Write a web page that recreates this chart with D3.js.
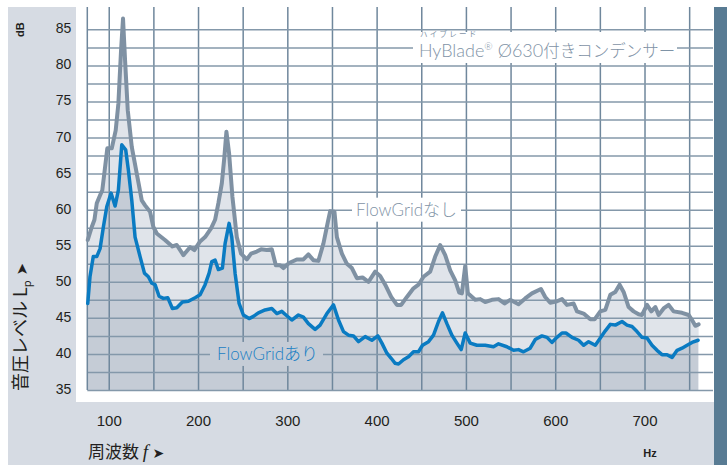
<!DOCTYPE html>
<html>
<head>
<meta charset="utf-8">
<script src="https://cdn.jsdelivr.net/npm/d3@7/dist/d3.min.js"></script>
<style>
  html, body { margin: 0; padding: 0; background: #fff; }
  svg { display: block; }
</style>
</head>
<body>
<svg id="chart" width="727" height="465"></svg>
<script>
// ---------------- DATA ----------------
const xTickLabels = [100, 200, 300, 400, 500, 600, 700];
const yTickLabels = [35, 40, 45, 50, 55, 60, 65, 70, 75, 80, 85];
const xGridValues = [100, 150, 200, 250, 300, 350, 400, 450, 500, 550, 600, 650, 700, 750];
const yGridValues = [35, 37.5, 40, 42.5, 45, 47.5, 50, 52.5, 55, 57.5, 60, 62.5, 65, 67.5, 70, 72.5, 75, 77.5, 80, 82.5, 85];

const seriesNames = ["FlowGridなし", "FlowGridあり"];

// FlowGrid なし (without)
const grayHz = [76.5,81,84,86.6,90.3,92.8,95.9,98.4,103.4,107.8,110.8,113.8,116,118.3,121.3,125.8,131.4,137,140.7,146.3,150,153.8,163,171.3,176.2,183.6,191.1,195.9,202.3,207.9,214.6,219.1,222.8,226.6,229.5,231.8,234.8,238.5,243.4,248.2,254.6,259.4,265.8,270.6,277,282.6,287.1,291.9,295.6,302,310.6,318,323.6,329.2,334.8,340.4,345.4,348,352.8,355.5,361.1,366.7,372.3,377.9,384.2,390.9,398.4,404,409.6,416.3,422.7,427.5,433.9,441.3,446.9,452.5,460,465.6,471.2,476.8,482.4,488,492.5,495.5,499.2,502.2,510.4,516,521.6,529.1,536.5,543.2,549.6,558.9,566.4,573.9,584,588.8,594.4,602,607.6,613.2,620.6,624.4,631.8,639.3,644.1,650.5,656.1,661.7,667.3,672.1,676.6,682.2,687.8,693.4,697.2,702.8,707.6,712.1,715.8,721.4,727,732.6,742,749.4,753.2,756.9,760.6];
const grayDb = [55.8,57.6,58.6,60.9,62.0,62.7,65.9,68.5,68.5,71.0,74.7,82.1,86.5,80.7,73.8,68.7,65.0,61.3,60.6,59.7,57.6,56.7,55.8,54.9,55.1,53.7,54.8,54.4,55.6,56.2,57.4,58.6,60.9,63.6,67.3,70.8,67.8,61.8,56.2,53.9,53.1,53.9,54.2,54.5,54.4,54.5,52.3,52.3,51.9,52.6,53.1,53.1,53.8,53.0,52.9,55.3,58.3,59.8,59.7,56.2,53.9,52.5,51.9,50.5,50.6,50.0,51.4,50.8,49.6,47.9,46.8,46.8,47.9,49.1,49.6,50.7,51.4,53.5,55.1,53.7,51.6,50.2,48.5,48.4,52.2,48.4,47.5,47.6,47.2,47.5,47.6,47.0,47.5,46.9,47.7,48.4,49.0,47.9,47.1,47.3,47.6,46.8,47.0,45.9,45.6,44.8,44.8,45.9,46.1,48.2,48.6,49.6,48.6,46.5,45.9,45.5,45.4,46.8,45.9,46.5,45.4,46.3,46.8,45.9,45.7,45.4,44.7,43.9,44.1];

// FlowGrid あり (with)
const blueHz = [76.5,79,82.7,86.6,90.3,94,97.8,102.6,107.1,110.8,114.6,119,122,125.8,129.5,135.1,140,144.4,148.2,151.9,156.4,161.2,166.1,171.3,176.2,182.5,189.2,196.7,202.3,207.9,212.4,215.4,219.1,222.8,227.3,230.3,234.8,237.8,241.5,246,250.8,257.2,262,267.6,275.1,282.6,288.2,293.8,299.4,305,312.4,318,323.6,331.1,336.7,344.3,351.7,357.3,362.9,368.5,374.1,379.7,387.2,394.7,401.4,405.9,411.5,416.3,420.8,424.5,430.1,435.7,441.3,446.9,451.4,458.1,463.7,469.3,473.8,478.7,484.3,489.9,494.7,499.2,504.8,512.3,521.6,530.9,536.5,545.9,553.3,558.9,564.5,572,577.6,585.1,590.8,596.3,601.9,607.6,612,618.8,626.2,631.8,637.4,644.9,650.5,656.1,661.7,667.3,674.8,680.4,686,691.6,697.2,702.8,708.4,714,719.6,725.2,730.9,736.5,742,747.7,753.2,760];
const blueDb = [47.0,50.7,53.5,53.5,54.6,57.6,60.4,62.3,60.5,62.7,69.0,68.3,65.5,61.3,56.2,53.5,51.2,50.7,49.8,49.6,48.0,47.7,47.8,46.3,46.4,47.2,47.3,47.8,48.2,49.6,51.2,52.8,53.0,51.7,51.9,55.3,58.1,56.2,51.2,47.0,45.4,44.9,45.2,45.7,46.1,46.3,45.6,45.9,45.3,44.7,45.4,45.1,44.2,43.4,44.0,45.6,46.8,44.7,43.1,42.6,42.5,41.7,42.4,41.9,42.5,41.5,40.1,39.4,38.7,38.6,39.2,39.6,40.3,40.3,41.2,41.7,42.6,44.5,45.7,44.2,42.6,41.5,40.6,42.9,41.5,41.2,41.2,41.0,41.4,41.0,40.5,40.6,40.3,40.8,42.0,42.5,42.3,41.6,42.3,42.9,42.9,42.3,41.9,41.2,41.7,41.2,42.2,43.2,44.1,44.0,44.5,44.0,43.8,43.1,42.3,42.2,41.2,40.5,39.9,39.9,39.5,40.5,40.8,41.2,41.6,41.9];

// ---------------- STYLE ----------------
const C = {
  panel: "#d6dbe3",
  bar: "#587b93",
  fillGray: "#e0e4ea",
  fillBlue: "#c5ccd6",
  gridV: "#6f879c",
  gridH: "#8498aa",
  gray: "#7f91a3",
  blue: "#0a7bc2",
  labelGray: "#7f93a6",
  labelBlue: "#1a80c4",
  text: "#231f20"
};
const narrow = "'Liberation Sans Narrow', 'Arial Narrow', 'Liberation Sans', Arial, sans-serif";
const labelFont = "Lato, 'Noto Sans CJK JP', sans-serif";

const svg = d3.select("#chart");

// plot geometry
const L = 87.3, R = 713, T = 7, B = 390;
const x = d3.scaleLinear().domain([76, 776.7]).range([L, R]);
const y = d3.scaleLinear().domain([35, 88.1]).range([B, T]);

// background panels
svg.append("rect").attr("x", 8).attr("y", 7).attr("width", 706).attr("height", 458).attr("fill", C.panel);
svg.append("rect").attr("x", 76).attr("y", 0).attr("width", 638).attr("height", 402).attr("fill", "#fff");
svg.append("rect").attr("x", 714).attr("y", 7).attr("width", 13).attr("height", 458).attr("fill", C.bar);

const gray = grayHz.map((h, i) => ({ hz: h, db: grayDb[i] }));
const blue = blueHz.map((h, i) => ({ hz: h, db: blueDb[i] }));

const area = d3.area().x(d => x(d.hz)).y0(y(35)).y1(d => y(d.db));
const line = d3.line().x(d => x(d.hz)).y(d => y(d.db));

svg.append("path").datum(gray).attr("d", area).attr("fill", C.fillGray);
svg.append("path").datum(blue).attr("d", area).attr("fill", C.fillBlue);

// grid via axes
const gx = svg.append("g").attr("transform", `translate(0,${B})`)
  .call(d3.axisBottom(x).tickValues(xGridValues).tickSize(-(B - T)).tickFormat(""));
gx.select(".domain").remove();
gx.selectAll("line").attr("stroke", C.gridV).attr("stroke-width", 1.5);

const gy = svg.append("g").attr("transform", `translate(${L},0)`)
  .call(d3.axisLeft(y).tickValues(yGridValues).tickSize(-(R - L)).tickFormat(""));
gy.select(".domain").remove();
gy.selectAll("line").attr("stroke", C.gridH).attr("stroke-width", 1.5);

// left border
svg.append("line").attr("x1", L).attr("x2", L).attr("y1", T).attr("y2", B)
  .attr("stroke", C.gridV).attr("stroke-width", 1.5);

// tick labels
const ax = svg.append("g").attr("transform", `translate(0,${B})`)
  .call(d3.axisBottom(x).tickValues(xTickLabels).tickSize(0).tickPadding(25).tickFormat(d3.format("d")));
ax.select(".domain").remove();
ax.selectAll("text").attr("font-family", narrow).attr("font-size", 15).attr("fill", C.text);

const ay = svg.append("g").attr("transform", `translate(${L},0)`)
  .call(d3.axisLeft(y).tickValues(yTickLabels).tickSize(0).tickPadding(16).tickFormat(d3.format("d")));
ay.select(".domain").remove();
ay.selectAll("text").attr("font-family", narrow).attr("font-size", 14).attr("fill", C.text).attr("dy", "0.25em");

// label boxes + labels
function boxLabel(x0, y0, w, h, bg) {
  svg.append("rect").attr("x", x0).attr("y", y0).attr("width", w).attr("height", h).attr("fill", bg);
}
// HyBlade label
boxLabel(413, 32, 264, 31, "#fff");
const hy = svg.append("text").attr("x", 419).attr("y", 57)
  .attr("font-family", labelFont).attr("font-weight", 300).attr("font-size", 18).attr("fill", C.labelGray);
hy.append("tspan").text("HyBlade");
hy.append("tspan").text("®").attr("font-size", 10).attr("dy", -7);
hy.append("tspan").text(" Ø630").attr("dy", 7);
hy.append("tspan").text("付きコンデンサー").attr("font-size", 16.5);
svg.append("text").attr("x", 420).attr("y", 37).attr("font-family", "'Noto Sans CJK JP', sans-serif")
  .attr("font-size", 7.5).attr("letter-spacing", 2.3).attr("fill", C.labelGray).text("ハイブレード");

// FlowGrid なし
boxLabel(352, y(60) - 12, 109, 24, "#fff");
svg.append("text").attr("x", 356).attr("y", y(60) + 6)
  .attr("font-family", labelFont).attr("font-weight", 300).attr("font-size", 17).attr("fill", C.labelGray).text(seriesNames[0]);

// FlowGrid あり
boxLabel(210, y(40) - 12, 113, 24, C.fillBlue);
svg.append("text").attr("x", 217).attr("y", y(40) + 6)
  .attr("font-family", labelFont).attr("font-weight", 300).attr("font-size", 17).attr("fill", C.labelBlue).text(seriesNames[1]);

// curves
svg.append("path").datum(gray).attr("d", line).attr("fill", "none")
  .attr("stroke", C.gray).attr("stroke-width", 4).attr("stroke-linejoin", "round").attr("stroke-linecap", "round");
svg.append("path").datum(blue).attr("d", line).attr("fill", "none")
  .attr("stroke", C.blue).attr("stroke-width", 3.5).attr("stroke-linejoin", "round").attr("stroke-linecap", "round");

// axis titles
svg.append("text").attr("transform", "translate(24,37) rotate(-90)")
  .attr("font-family", narrow).attr("font-weight", "bold").attr("font-size", 11).attr("fill", C.text).text("dB");

const yt = svg.append("text").attr("transform", "translate(27,391) rotate(-90)")
  .attr("font-family", "'Noto Sans CJK JP', sans-serif").attr("font-size", 18).attr("fill", C.text);
yt.append("tspan").text("音圧レベル L");
yt.append("tspan").text("p").attr("font-size", 11).attr("dy", 4);
yt.append("tspan").text(" ➤").attr("font-family", "'DejaVu Sans', sans-serif").attr("font-size", 15).attr("dy", -4);

const xt = svg.append("text").attr("x", 88).attr("y", 458)
  .attr("font-family", "'Noto Sans CJK JP', sans-serif").attr("font-size", 17).attr("fill", C.text);
xt.append("tspan").text("周波数 ");
xt.append("tspan").text("f").attr("font-family", "'Liberation Serif', serif").attr("font-style", "italic").attr("font-size", 19);
xt.append("tspan").text(" ➤").attr("font-family", "'DejaVu Sans', sans-serif").attr("font-size", 14);

svg.append("text").attr("x", 650).attr("y", 457).attr("text-anchor", "middle")
  .attr("font-family", narrow).attr("font-weight", "bold").attr("font-size", 11).attr("fill", C.text).text("Hz");
</script>
</body>
</html>
